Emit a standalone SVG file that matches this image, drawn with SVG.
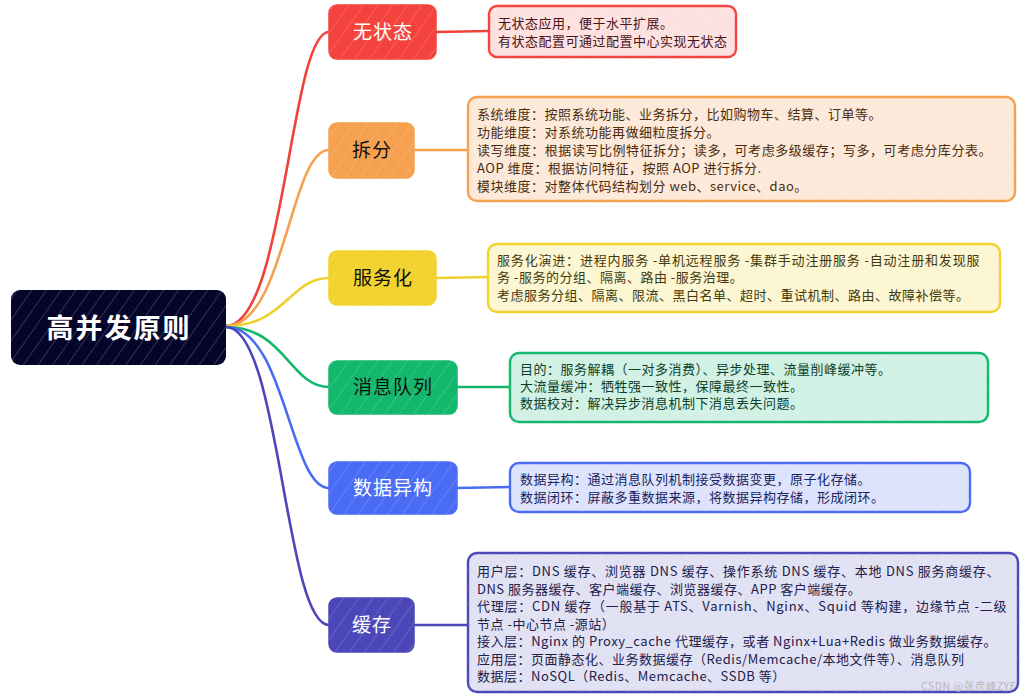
<svg xmlns="http://www.w3.org/2000/svg" width="1024" height="696" viewBox="0 0 1024 696">
<style>
  .conn{fill:none;stroke-width:2.6;stroke-linecap:round}
  .lbl{font-family:"Noto Sans CJK SC","Noto Sans",sans-serif;font-size:19px;letter-spacing:1px;text-anchor:middle}
  .root{font-family:"Noto Sans CJK SC","Noto Sans",sans-serif;font-size:27px;font-weight:bold;letter-spacing:2px;text-anchor:middle;fill:#ffffff}
  .txt{font-family:"Noto Sans CJK SC","Noto Sans",sans-serif;font-size:13px;letter-spacing:0.5px}
  .box{stroke-width:2.4}
  .node{stroke-width:1.5}
  .wm{font-family:"Noto Sans CJK SC","Noto Sans",sans-serif;font-size:10.5px;fill:#b8b8b8}
</style>
<defs>
  <pattern id="hatch" width="12" height="12" patternUnits="userSpaceOnUse" patternTransform="rotate(35)">
    <line x1="0" y1="0" x2="0" y2="12" stroke="#ffffff" stroke-width="1.3" opacity="0.45"/>
  </pattern>
  <pattern id="hatch2" width="10" height="10" patternUnits="userSpaceOnUse" patternTransform="rotate(35)">
    <line x1="0" y1="0" x2="0" y2="10" stroke="#ffffff" stroke-width="1" opacity="0.55"/>
  </pattern>
</defs>
<rect width="1024" height="696" fill="#ffffff"/>

<g id="connectors">
  <path class="conn" stroke="#f0413b" d="M226,326 C285,326 290,32 329,32"/>
  <path class="conn" stroke="#f4a04e" d="M226,326 C285,326 290,150 329,150"/>
  <path class="conn" stroke="#f0d02c" d="M226,326 C285,326 290,278 329,278"/>
  <path class="conn" stroke="#13b86c" d="M226,327 C285,327 290,387 329,387"/>
  <path class="conn" stroke="#4a6cf5" d="M226,327 C285,327 290,488 329,488"/>
  <path class="conn" stroke="#4b47b9" d="M226,327 C280,327 285,625 329,625"/>
  <line class="conn" stroke="#f0413b" x1="436" y1="32" x2="489" y2="31"/>
  <line class="conn" stroke="#f4a04e" x1="414" y1="150" x2="468" y2="150"/>
  <line class="conn" stroke="#f0d02c" x1="436" y1="278" x2="488" y2="277"/>
  <line class="conn" stroke="#13b86c" x1="457" y1="387" x2="510" y2="387"/>
  <line class="conn" stroke="#4a6cf5" x1="457" y1="488" x2="510" y2="487"/>
  <line class="conn" stroke="#4b47b9" x1="414" y1="625" x2="468" y2="625"/>
</g>

<g id="root">
  <rect x="11" y="290" width="215" height="75" rx="9" fill="#05052a"/>
  <rect x="11" y="290" width="215" height="75" rx="9" fill="url(#hatch)" opacity="0.6"/>
  <text class="root" x="119" y="338">高并发原则</text>
</g>

<g id="n-stateless">
  <rect class="node" x="329" y="5" width="107" height="54" rx="8" fill="#f4433c" stroke="#f4433c"/>
  <rect x="329" y="5" width="107" height="54" rx="8" fill="url(#hatch)" opacity="0.5"/>
  <text class="lbl" x="383" y="39" fill="#ffffff">无状态</text>
</g>
<g id="d-stateless" class="txt" fill="#4a1414">
  <rect class="box" x="489" y="6" width="247" height="51" rx="8" fill="#fde1e1" stroke="#f4433c"/>
  <rect x="489" y="6" width="247" height="51" rx="8" fill="url(#hatch2)" opacity="0.5"/>
  <text x="498" y="27.5">无状态应用，便于水平扩展。</text>
  <text x="498" y="46">有状态配置可通过配置中心实现无状态</text>
</g>

<g id="n-split">
  <rect class="node" x="329" y="123" width="85" height="55" rx="8" fill="#f5a14f" stroke="#f5a14f"/>
  <rect x="329" y="123" width="85" height="55" rx="8" fill="url(#hatch)" opacity="0.5"/>
  <text class="lbl" x="372" y="157" fill="#111111">拆分</text>
</g>
<g id="d-split" class="txt" fill="#4a2c0c">
  <rect class="box" x="468" y="97" width="547" height="104" rx="9" fill="#fde9d9" stroke="#f5a14f"/>
  <rect x="468" y="97" width="547" height="104" rx="9" fill="url(#hatch2)" opacity="0.5"/>
  <text x="477" y="118.5" textLength="405" lengthAdjust="spacing">系统维度：按照系统功能、业务拆分，比如购物车、结算、订单等。</text>
  <text x="477" y="136.5">功能维度：对系统功能再做细粒度拆分。</text>
  <text x="477" y="154.5" textLength="515" lengthAdjust="spacing">读写维度：根据读写比例特征拆分；读多，可考虑多级缓存；写多，可考虑分库分表。</text>
  <text x="477" y="172.5">AOP 维度：根据访问特征，按照 AOP 进行拆分.</text>
  <text x="477" y="190.5">模块维度：对整体代码结构划分 web、service、dao。</text>
</g>

<g id="n-service">
  <rect class="node" x="329" y="251" width="107" height="54" rx="8" fill="#f1d22e" stroke="#f1d22e"/>
  <rect x="329" y="251" width="107" height="54" rx="8" fill="url(#hatch)" opacity="0.5"/>
  <text class="lbl" x="383" y="285" fill="#111111">服务化</text>
</g>
<g id="d-service" class="txt" fill="#443a0c">
  <rect class="box" x="488" y="244" width="512" height="68" rx="9" fill="#fdf6d3" stroke="#f1d22e"/>
  <rect x="488" y="244" width="512" height="68" rx="9" fill="url(#hatch2)" opacity="0.5"/>
  <text x="497" y="264.5" textLength="483" lengthAdjust="spacing">服务化演进：进程内服务 -单机远程服务 -集群手动注册服务 -自动注册和发现服</text>
  <text x="497" y="282">务 -服务的分组、隔离、路由 -服务治理。</text>
  <text x="497" y="299.5">考虑服务分组、隔离、限流、黑白名单、超时、重试机制、路由、故障补偿等。</text>
</g>

<g id="n-mq">
  <rect class="node" x="329" y="361" width="128" height="53" rx="8" fill="#13b86c" stroke="#13b86c"/>
  <rect x="329" y="361" width="128" height="53" rx="8" fill="url(#hatch)" opacity="0.5"/>
  <text class="lbl" x="393" y="394" fill="#111111">消息队列</text>
</g>
<g id="d-mq" class="txt" fill="#0d3f2a">
  <rect class="box" x="510" y="353" width="478" height="69" rx="9" fill="#d0f1e3" stroke="#13b86c"/>
  <rect x="510" y="353" width="478" height="69" rx="9" fill="url(#hatch2)" opacity="0.5"/>
  <text x="520" y="373.5">目的：服务解耦（一对多消费）、异步处理、流量削峰缓冲等。</text>
  <text x="520" y="390.5">大流量缓冲：牺牲强一致性，保障最终一致性。</text>
  <text x="520" y="407.5">数据校对：解决异步消息机制下消息丢失问题。</text>
</g>

<g id="n-hetero">
  <rect class="node" x="329" y="462" width="128" height="52" rx="8" fill="#4a6cf5" stroke="#4a6cf5"/>
  <rect x="329" y="462" width="128" height="52" rx="8" fill="url(#hatch)" opacity="0.5"/>
  <text class="lbl" x="393" y="495" fill="#ffffff">数据异构</text>
</g>
<g id="d-hetero" class="txt" fill="#17245e">
  <rect class="box" x="510" y="463" width="460" height="49" rx="9" fill="#dde3fd" stroke="#4a6cf5"/>
  <rect x="510" y="463" width="460" height="49" rx="9" fill="url(#hatch2)" opacity="0.5"/>
  <text x="520" y="483.5">数据异构：通过消息队列机制接受数据变更，原子化存储。</text>
  <text x="520" y="501.5">数据闭环：屏蔽多重数据来源，将数据异构存储，形成闭环。</text>
</g>

<g id="n-cache">
  <rect class="node" x="329" y="598" width="85" height="54" rx="8" fill="#4b47b9" stroke="#4b47b9"/>
  <rect x="329" y="598" width="85" height="54" rx="8" fill="url(#hatch)" opacity="0.5"/>
  <text class="lbl" x="372" y="632" fill="#ffffff">缓存</text>
</g>
<g id="d-cache" class="txt" fill="#22204a">
  <rect class="box" x="468" y="553" width="550" height="139" rx="9" fill="#e1e1f4" stroke="#4b47b9"/>
  <rect x="468" y="553" width="550" height="139" rx="9" fill="url(#hatch2)" opacity="0.5"/>
  <text x="477" y="576" textLength="523" lengthAdjust="spacing">用户层：DNS 缓存、浏览器 DNS 缓存、操作系统 DNS 缓存、本地 DNS 服务商缓存、</text>
  <text x="477" y="593.5">DNS 服务器缓存、客户端缓存、浏览器缓存、APP 客户端缓存。</text>
  <text x="477" y="611" textLength="530" lengthAdjust="spacing">代理层：CDN 缓存（一般基于 ATS、Varnish、Nginx、Squid 等构建，边缘节点 -二级</text>
  <text x="477" y="628.5">节点 -中心节点 -源站）</text>
  <text x="477" y="646" textLength="520" lengthAdjust="spacing">接入层：Nginx 的 Proxy_cache 代理缓存，或者 Nginx+Lua+Redis 做业务数据缓存。</text>
  <text x="477" y="663.5">应用层：页面静态化、业务数据缓存（Redis/Memcache/本地文件等）、消息队列</text>
  <text x="477" y="681">数据层：NoSQL（Redis、Memcache、SSDB 等）</text>
  <text class="wm" x="1016" y="690" text-anchor="end">CSDN @张彦峰ZYF</text>
</g>
</svg>
